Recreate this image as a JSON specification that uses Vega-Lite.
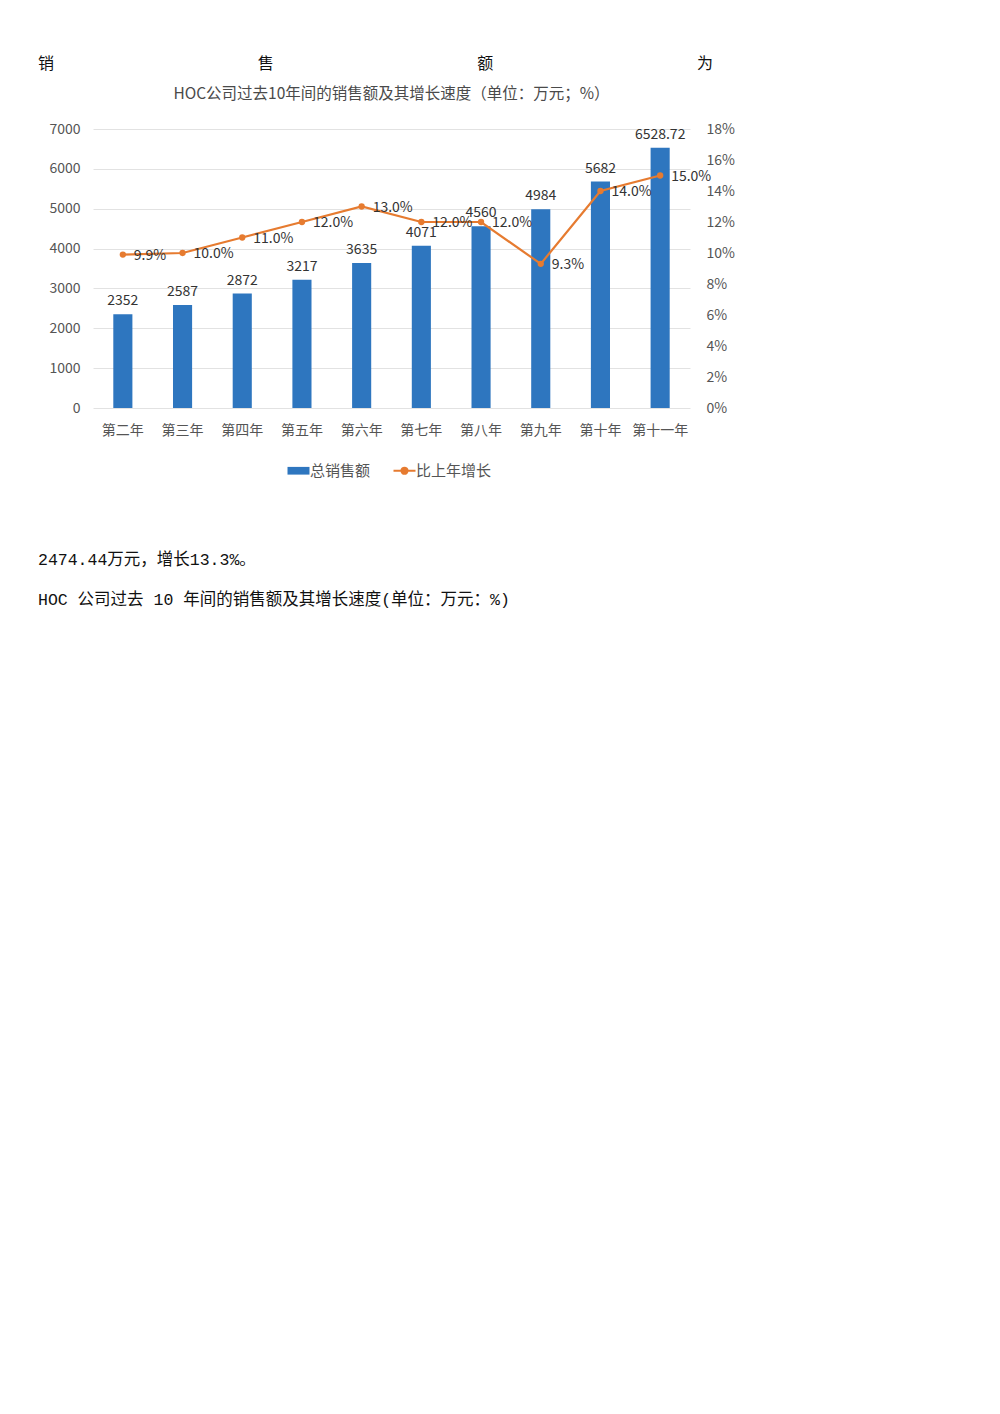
{
  "$schema": "https://vega.github.io/schema/vega-lite/v6.json",
  "background": "white",
  "padding": {"left": 38, "top": 42, "right": 0, "bottom": 0},
  "spacing": 0,
  "resolve": {"legend": {"color": "independent"}},
  "config": {
    "view": {"stroke": null},
    "font": "Noto Sans CJK SC",
    "legend": {"layout": {"bottom": {"anchor": "middle"}}}
  },
  "vconcat": [
    {
      "width": 659,
      "height": 44,
      "data": {"values": [
        {"ch": "销", "i": 0}, {"ch": "售", "i": 1}, {"ch": "额", "i": 2}, {"ch": "为", "i": 3}
      ]},
      "mark": {"type": "text", "align": "left", "baseline": "middle", "fontSize": 16, "color": "#111111", "dx": -55},
      "encoding": {
        "x": {"field": "i", "type": "ordinal", "scale": {"type": "point", "padding": 0}, "axis": null},
        "text": {"field": "ch", "type": "nominal"}
      }
    },
    {
      "width": 597,
      "height": 279,
      "title": {
        "text": "HOC公司过去10年间的销售额及其增长速度（单位：万元；%）",
        "fontSize": 15.5, "fontWeight": "normal", "color": "#4a4a4a", "offset": 20, "anchor": "middle"
      },
      "data": {"values": [
        {"year": "第二年", "sales": 2352, "growth": 0.099},
        {"year": "第三年", "sales": 2587, "growth": 0.100},
        {"year": "第四年", "sales": 2872, "growth": 0.110},
        {"year": "第五年", "sales": 3217, "growth": 0.120},
        {"year": "第六年", "sales": 3635, "growth": 0.130},
        {"year": "第七年", "sales": 4071, "growth": 0.120},
        {"year": "第八年", "sales": 4560, "growth": 0.120},
        {"year": "第九年", "sales": 4984, "growth": 0.093},
        {"year": "第十年", "sales": 5682, "growth": 0.140},
        {"year": "第十一年", "sales": 6528.72, "growth": 0.150}
      ]},
      "encoding": {
        "x": {
          "field": "year", "type": "nominal", "sort": null,
          "scale": {"paddingInner": 0.68, "paddingOuter": 0.34},
          "axis": {"title": null, "labelAngle": 0, "ticks": false, "domain": false, "labelPadding": 15,
                   "labelFontSize": 14, "labelColor": "#555555"}
        }
      },
      "layer": [
        {
          "encoding": {
            "y": {
              "field": "sales", "type": "quantitative", "scale": {"domain": [0, 7000]},
              "axis": {"title": null, "format": "d", "values": [0, 1000, 2000, 3000, 4000, 5000, 6000, 7000], "grid": true,
                       "gridColor": "#e2e2e2", "domain": false, "ticks": false, "labelPadding": 13,
                       "labelFontSize": 14, "labelColor": "#555555"}
            }
          },
          "layer": [
            {
              "mark": {"type": "bar"},
              "encoding": {
                "color": {
                  "datum": "总销售额", "type": "nominal",
                  "scale": {"domain": ["总销售额", "比上年增长"], "range": ["#2e76bf", "#e67b30"]},
                  "legend": {
                    "orient": "bottom", "direction": "horizontal", "title": null,
                    "labelFontSize": 15, "labelColor": "#555555", "symbolSize": 484,
                    "labelOffset": 4, "columnPadding": 18, "offset": 26,
                    "encode": {
                      "symbols": {
                        "update": {
                          "shape": {"signal": "datum.value === '总销售额' ? 'M-1,-0.35L1,-0.35L1,0.35L-1,0.35Z' : 'M-1,0L1,0M-0.28,0A0.28,0.28,0,1,0,0.28,0A0.28,0.28,0,1,0,-0.28,0Z'"},
                          "fill": {"signal": "scale('color', datum.value)"},
                          "stroke": {"signal": "scale('color', datum.value)"},
                          "strokeWidth": {"signal": "datum.value === '总销售额' ? 0 : 2"},
                          "opacity": {"value": 1}
                        }
                      }
                    }
                  }
                }
              }
            },
            {
              "mark": {"type": "text", "baseline": "bottom", "dy": -6, "fontSize": 14, "color": "#333333"},
              "encoding": {"text": {"field": "sales", "type": "nominal"}}
            }
          ]
        },
        {
          "encoding": {
            "y": {
              "field": "growth", "type": "quantitative", "scale": {"domain": [0, 0.18]},
              "axis": {"orient": "right", "title": null, "format": ".0%",
                       "values": [0, 0.02, 0.04, 0.06, 0.08, 0.10, 0.12, 0.14, 0.16, 0.18],
                       "grid": false, "domain": false, "ticks": false, "labelPadding": 16,
                       "labelFontSize": 14, "labelColor": "#555555"}
            }
          },
          "layer": [
            {
              "mark": {"type": "line", "strokeWidth": 2.2, "point": {"filled": true, "size": 40}},
              "encoding": {"color": {"datum": "比上年增长", "type": "nominal"}}
            },
            {
              "mark": {"type": "text", "align": "left", "baseline": "middle", "dx": 11, "dy": 1, "fontSize": 14, "color": "#333333"},
              "encoding": {"text": {"field": "growth", "type": "quantitative", "format": ".1%"}}
            }
          ]
        }
      ],
      "resolve": {"scale": {"y": "independent"}}
    },
    {
      "width": 500,
      "height": 200,
      "data": {"values": [
        {"line": "2474.44万元，增长13.3%。", "i": 0},
        {"line": "HOC 公司过去 10 年间的销售额及其增长速度(单位：万元：%)", "i": 1}
      ]},
      "mark": {"type": "text", "align": "left", "baseline": "middle", "fontSize": 16.5, "color": "#111111",
               "font": "Liberation Mono, Noto Sans CJK SC", "dx": -55},
      "encoding": {
        "x": {"datum": 0, "type": "quantitative", "scale": {"domain": [0, 1]}, "axis": null},
        "y": {"field": "i", "type": "quantitative", "scale": {"domain": [-2.025, 2.975], "reverse": true, "nice": false, "zero": false}, "axis": null},
        "text": {"field": "line", "type": "nominal"}
      }
    }
  ]
}
